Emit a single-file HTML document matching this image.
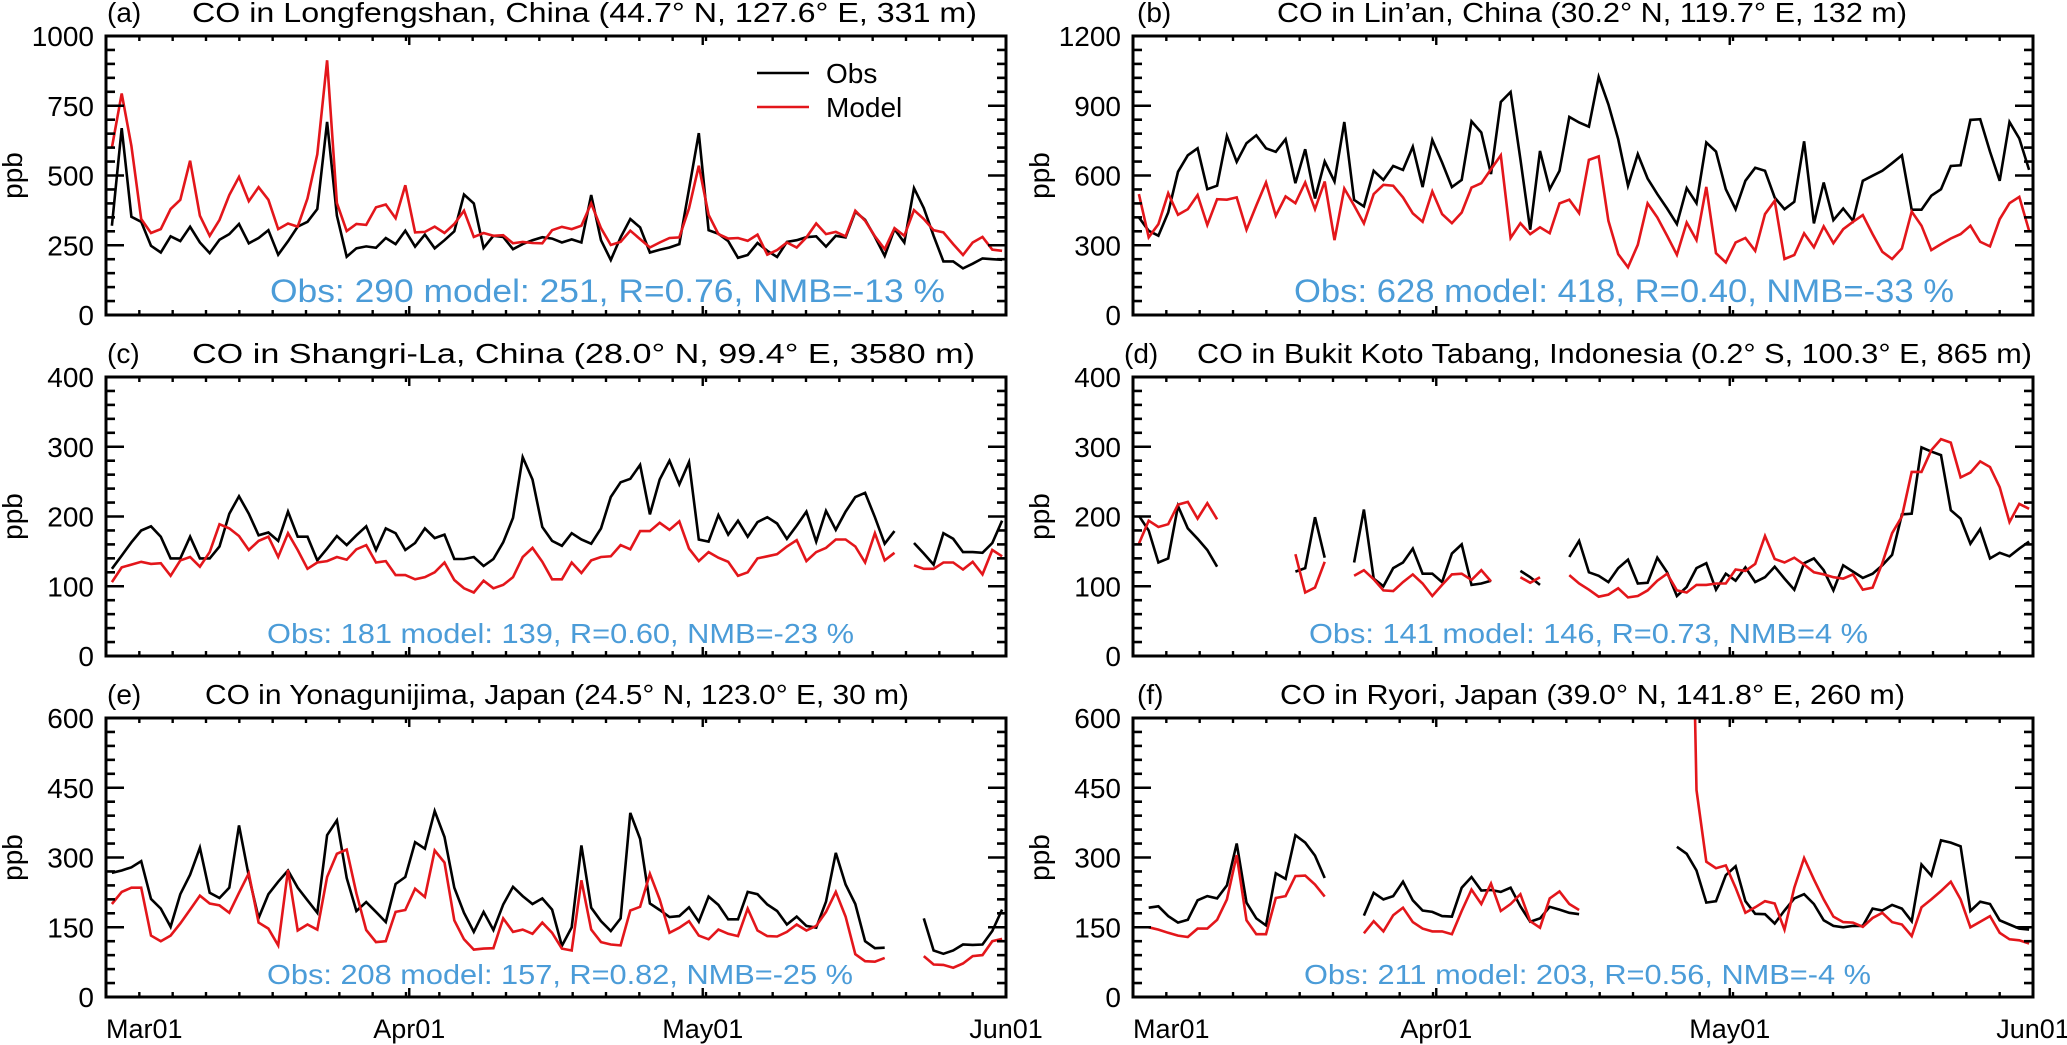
<!DOCTYPE html>
<html><head><meta charset="utf-8"><title>CO time series</title>
<style>
html,body{margin:0;padding:0;background:#fff;}
svg{display:block;font-family:"Liberation Sans",Arial,sans-serif;}
</style></head>
<body>
<svg id="fig" width="2067" height="1045" viewBox="0 0 2067 1045" xmlns="http://www.w3.org/2000/svg"></svg>
<script>
// ---- data (ppb), daily from Mar 01 ----
const xTickLabels = ["Mar01","Apr01","May01","Jun01"];
const xTickDays = [0,31,61,92];
const obsA = [320,670,352,334,248,224,282,265,316,260,222,270,290,326,257,276,304,216,264,317,334,380,692,356,209,239,246,241,276,254,302,245,288,239,268,300,432,400,240,284,280,236,254,268,279,274,260,271,260,430,268,197,278,344,314,224,234,242,254,451,652,304,291,265,205,215,258,230,208,262,268,279,282,245,284,278,370,341,280,212,308,260,455,383,284,192,192,167,184,203,200,198];
const modA = [600,794,606,344,294,308,380,413,553,356,284,341,430,495,408,458,413,308,328,317,418,576,913,401,301,326,323,386,396,347,465,296,298,317,294,326,374,280,294,284,286,257,262,258,257,304,316,308,320,400,311,251,262,302,272,242,260,276,278,382,535,359,290,274,276,266,288,216,233,260,242,278,328,290,298,282,374,338,282,236,311,284,376,344,304,296,254,215,260,280,234,230];
const obsB = [420,362,341,441,616,687,717,541,556,770,659,739,773,717,702,756,567,713,501,660,574,830,495,467,620,581,641,624,724,550,753,656,550,581,833,785,606,916,959,670,367,706,541,620,852,828,810,1024,906,756,556,692,587,520,458,391,546,481,742,703,541,455,577,633,620,505,455,487,747,394,570,408,458,405,577,599,620,653,687,453,453,513,541,641,644,839,842,703,577,830,759,624];
const modB = [520,334,391,524,431,455,516,387,498,496,506,367,471,570,427,510,481,570,455,574,322,544,471,394,520,560,556,506,437,401,531,434,395,441,548,567,627,687,331,395,348,377,352,480,496,438,667,682,405,262,205,302,480,420,341,259,398,322,551,266,226,312,331,276,434,491,241,258,351,291,381,309,369,401,430,348,272,241,286,445,384,279,305,329,348,384,315,295,412,481,508,362];
const obsC = [125,144,163,180,186,171,140,140,171,140,140,157,204,229,204,173,177,165,207,171,171,137,154,172,159,173,186,152,183,176,152,162,183,169,174,139,139,142,129,139,163,198,285,253,185,165,158,176,167,161,183,228,249,254,274,203,253,280,246,278,167,164,202,174,194,171,192,199,190,168,187,207,164,208,181,207,228,234,199,161,179,null,162,147,131,176,168,149,149,148,162,194];
const modC = [106,127,131,135,132,133,115,137,142,128,149,189,183,172,152,165,171,142,176,152,125,134,136,142,138,153,159,134,136,116,116,110,113,120,134,109,97,91,108,97,102,113,142,155,135,110,110,134,119,137,142,143,159,153,179,179,191,181,193,154,136,149,141,135,115,120,140,143,146,157,166,136,149,155,167,167,157,134,176,137,148,null,130,125,125,134,134,124,135,117,152,143];
const obsD = [201,180,134,140,215,183,168,152,128,null,null,null,null,null,null,null,121,126,199,141,null,null,134,210,111,100,126,134,154,118,118,106,147,160,102,104,108,null,null,122,113,102,null,null,142,165,120,115,106,126,138,104,105,141,120,86,99,126,133,95,118,108,127,106,113,128,111,95,133,140,123,94,130,121,112,118,130,145,203,204,299,293,288,209,197,161,182,140,148,143,154,164];
const modD = [161,194,185,189,217,221,197,219,196,null,null,null,null,null,null,null,146,91,98,135,null,null,115,123,110,94,93,106,117,104,86,102,117,118,109,123,107,null,null,113,105,113,null,null,116,104,95,85,88,97,84,86,94,108,118,94,91,102,102,104,104,124,122,132,172,139,134,141,131,120,117,113,111,117,95,98,133,176,200,264,264,295,311,306,256,263,279,271,242,192,218,211];
const obsE = [267,272,279,292,211,190,151,221,263,321,224,213,235,369,260,170,221,248,272,235,208,181,348,380,256,185,204,183,161,243,258,333,319,400,344,235,181,140,183,144,199,237,217,200,212,188,110,150,326,192,163,142,169,396,340,201,187,172,174,193,162,216,198,167,167,226,221,199,185,156,173,153,149,205,310,242,200,120,105,106,null,null,null,169,100,93,100,113,112,113,142,188];
const modE = [200,226,235,235,132,120,132,158,188,218,201,197,181,224,266,160,147,111,273,143,156,145,258,308,317,223,144,118,120,183,187,233,215,315,289,165,124,102,104,105,169,140,145,136,160,138,104,100,251,145,118,113,111,186,194,265,210,138,149,163,132,124,145,136,131,190,143,131,130,140,156,143,153,183,226,173,92,77,76,84,null,null,null,88,70,69,63,72,88,90,120,125];
const obsF = [null,192,195,174,160,166,208,217,212,240,330,203,169,154,266,254,348,332,304,256,null,null,null,175,224,210,217,248,208,186,183,174,173,235,258,229,230,226,235,195,162,169,194,188,181,178,null,null,null,null,null,null,null,null,null,323,308,272,203,206,262,281,206,179,178,158,186,212,221,200,165,153,150,153,153,190,186,198,190,163,285,261,337,332,324,185,205,200,165,156,147,145];
const modF = [null,150,145,138,132,129,147,147,166,210,305,165,135,135,213,217,260,261,242,216,null,null,null,137,163,141,176,192,161,147,141,141,135,185,231,200,244,185,200,221,163,149,212,227,200,187,null,null,null,null,null,null,null,null,null,null,1500,445,291,277,283,235,181,193,206,201,145,235,299,253,210,173,161,160,151,170,181,161,156,131,193,210,228,248,210,150,162,174,138,124,122,115];
const statsText = ["Obs: 290 model: 251, R=0.76, NMB=-13 %","Obs: 628 model: 418, R=0.40, NMB=-33 %","Obs: 181 model: 139, R=0.60, NMB=-23 %","Obs: 141 model: 146, R=0.73, NMB=4 %","Obs: 208 model: 157, R=0.82, NMB=-25 %","Obs: 211 model: 203, R=0.56, NMB=-4 %"];
const titleText = ["CO in Longfengshan, China (44.7\u00b0 N, 127.6\u00b0 E, 331 m)","CO in Lin\u2019an, China (30.2\u00b0 N, 119.7\u00b0 E, 132 m)","CO in Shangri-La, China (28.0\u00b0 N, 99.4\u00b0 E, 3580 m)","CO in Bukit Koto Tabang, Indonesia (0.2\u00b0 S, 100.3\u00b0 E, 865 m)","CO in Yonagunijima, Japan (24.5\u00b0 N, 123.0\u00b0 E, 30 m)","CO in Ryori, Japan (39.0\u00b0 N, 141.8\u00b0 E, 260 m)"];
const panelLetters = ["(a)","(b)","(c)","(d)","(e)","(f)"];
const yMax = [1000,1200,400,400,600,600];
const yStep = [250,300,100,100,150,150];

// ---- layout ----
const NS = "http://www.w3.org/2000/svg";
const svg = document.getElementById('fig');
const PW = 900, PH = 279, NDAYS = 92, X0 = 0.6;
const lefts = [106,1133], tops = [36,377,718];
const layout = [
  {lab:107, tx:192, tl:785, sx:270, sl:675, fs:32},
  {lab:1137, tx:1277, tl:630, sx:1294, sl:660, fs:32},
  {lab:107, tx:192, tl:783, sx:267, sl:587, fs:28},
  {lab:1124, tx:1197, tl:835, sx:1309, sl:559, fs:28},
  {lab:107, tx:205, tl:704, sx:267, sl:586, fs:28},
  {lab:1137, tx:1280, tl:625, sx:1304, sl:567, fs:28}
];
const obsAll = [obsA,obsB,obsC,obsD,obsE,obsF];
const modAll = [modA,modB,modC,modD,modE,modF];
const names = ["longfengshan","linan","shangri-la","bukit-koto-tabang","yonagunijima","ryori"];

function mk(tag, attrs, parent){
  const e = document.createElementNS(NS, tag);
  for (const k in attrs) e.setAttribute(k, attrs[k]);
  (parent||svg).appendChild(e);
  return e;
}

for (let p=0; p<6; p++){
  const L = lefts[p%2];
  const top = tops[Math.floor(p/2)];
  const bottom = top + PH, right = L + PW;
  const xs = d => L + (d/NDAYS)*PW;
  const ys = v => bottom - (v/yMax[p])*PH;
  const g = mk('g', {});
  
  

  const cp = mk('clipPath', {id:'clip'+p}, g);
  mk('rect', {x:L, y:top, width:PW, height:PH}, cp);

  function drawSeries(arr, color, nm){
    const sg = mk('g', {'clip-path':'url(#clip'+p+')'}, g);
    
    
    let seg = [];
    const flush = () => {
      if (seg.length > 1){
        const pl = mk('polyline', {points:seg.join(' '), fill:'none', stroke:color, 'stroke-width':2.6, 'stroke-linejoin':'miter'}, sg);
        
        
      }
      seg = [];
    };
    arr.forEach((v,i) => {
      if (v === null) { flush(); return; }
      seg.push(xs(X0+i).toFixed(1) + ',' + ys(v).toFixed(1));
    });
    flush();
  }
  drawSeries(obsAll[p], '#000000', 'obs');
  drawSeries(modAll[p], '#e3161b', 'model');

  const fr = mk('rect', {x:L, y:top, width:PW, height:PH, fill:'none', stroke:'#000', 'stroke-width':3}, g);
  
  

  const yt = mk('g', {stroke:'#000','stroke-width':2.6}, g);
  
  
  const minor = yStep[p]/5;
  for (let v=0; v<=yMax[p]+0.001; v+=minor){
    const major = Math.abs(v/yStep[p] - Math.round(v/yStep[p])) < 1e-6;
    const len = major ? 18 : 9;
    const y = ys(v);
    mk('line', {x1:L, x2:L+len, y1:y, y2:y}, yt);
    mk('line', {x1:right, x2:right-len, y1:y, y2:y}, yt);
    if (major){
      const t = mk('text', {x:L-12, y:y+10, 'font-size':28, 'text-anchor':'end', fill:'#000', stroke:'none'}, g);
      
      
      t.textContent = String(Math.round(v));
    }
  }
  const xt = mk('g', {stroke:'#000','stroke-width':2.4}, g);
  
  
  for (let k=0; k<=27; k++){
    const x = L + k*PW/27;
    mk('line', {x1:x, x2:x, y1:bottom, y2:bottom-5}, xt);
    mk('line', {x1:x, x2:x, y1:top, y2:top+5}, xt);
  }
  xTickDays.forEach((d,k) => {
    const x = xs(d);
    mk('line', {x1:x, x2:x, y1:bottom, y2:bottom-9}, xt);
    mk('line', {x1:x, x2:x, y1:top, y2:top+9}, xt);
    if (p >= 4){
      const t = mk('text', {x: k===0 ? L : x, y:1038, 'font-size':27, 'text-anchor': k===0 ? 'start' : 'middle', fill:'#000', stroke:'none'}, g);
      
      
      t.textContent = xTickLabels[k];
    }
  });

  const yl = mk('text', {x:0, y:0, 'font-size':28, 'text-anchor':'middle', transform:'translate('+(L-84)+','+(top+PH/2)+') rotate(-90)'}, g);
  
  
  yl.textContent = 'ppb';

  const lb = mk('text', {x:layout[p].lab, y:top-14, 'font-size':28}, g);
  
  
  lb.textContent = panelLetters[p];
  const tt = mk('text', {x:layout[p].tx, y:top-14, 'font-size':28, textLength:layout[p].tl, lengthAdjust:'spacingAndGlyphs'}, g);
  
  
  tt.textContent = titleText[p];

  const st = mk('text', {x:layout[p].sx, y:bottom-13, 'font-size':layout[p].fs, fill:'#4b9cd8', textLength:layout[p].sl, lengthAdjust:'spacingAndGlyphs'}, g);
  
  
  st.textContent = statsText[p];
}

const lg = mk('g', {});


const l1 = mk('line', {x1:757, x2:809, y1:73, y2:73, stroke:'#000', 'stroke-width':2.6}, lg);


const t1 = mk('text', {x:826, y:83, 'font-size':28}, lg);


t1.textContent = 'Obs';
const l2 = mk('line', {x1:757, x2:809, y1:107, y2:107, stroke:'#e3161b', 'stroke-width':2.6}, lg);


const t2 = mk('text', {x:826, y:117, 'font-size':28}, lg);


t2.textContent = 'Model';
</script>
</body></html>
